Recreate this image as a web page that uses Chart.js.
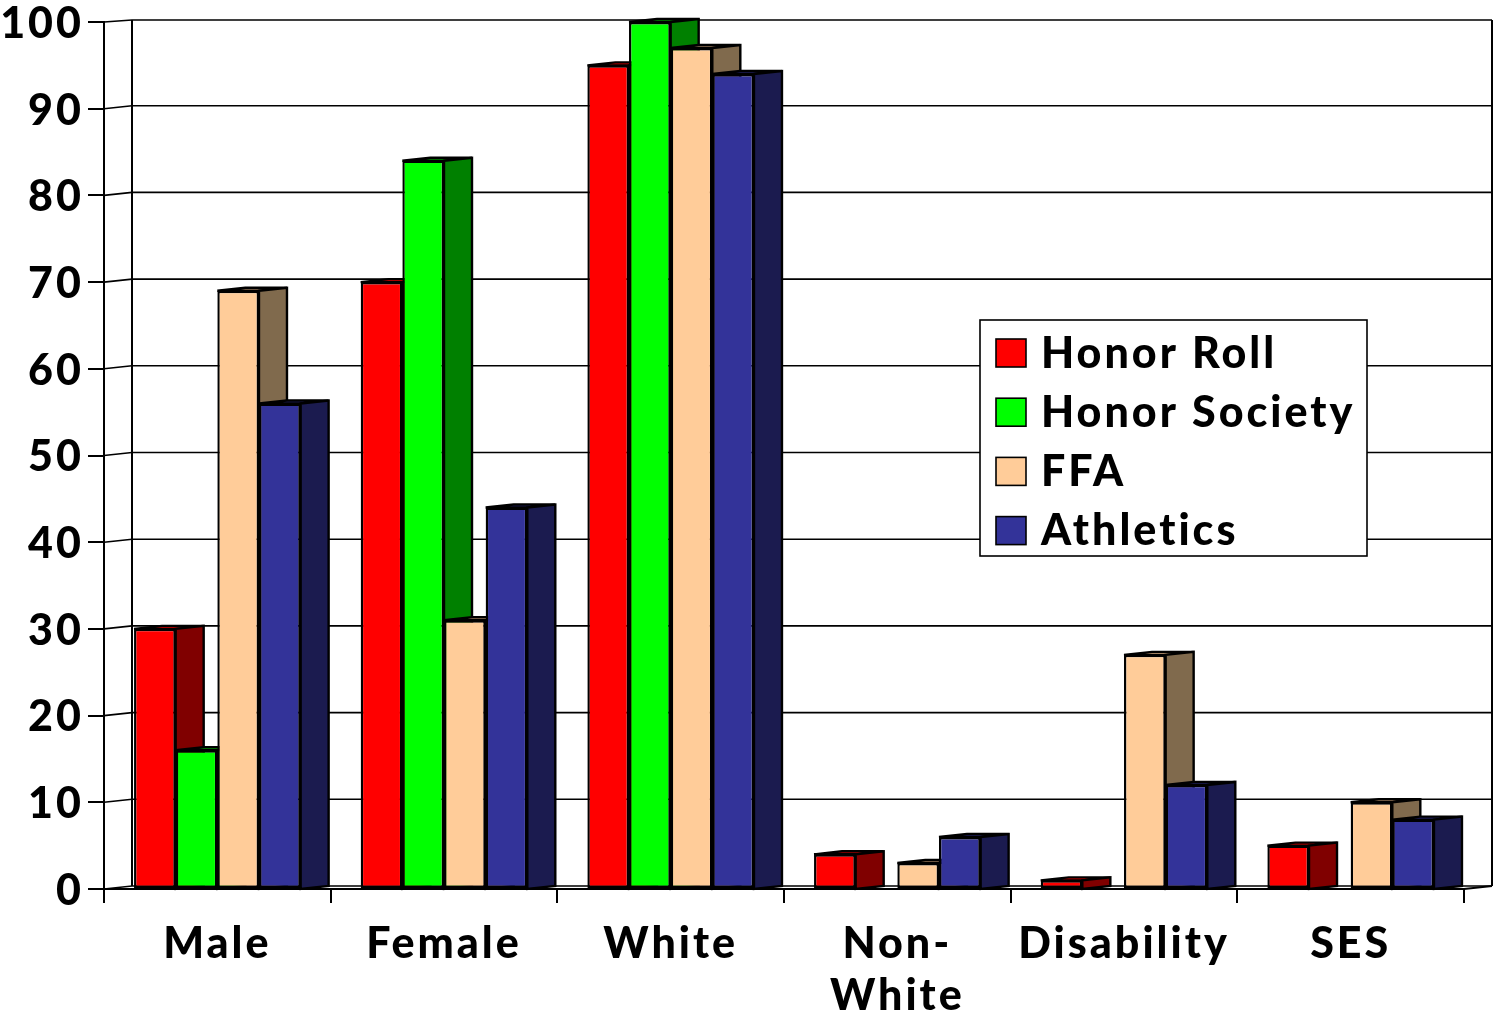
<!DOCTYPE html>
<html><head><meta charset="utf-8">
<style>html,body{margin:0;padding:0;background:#fff}#w{position:absolute;left:0;top:0;width:1499px;height:1017px}</style>
<script src="https://cdn.jsdelivr.net/npm/chart.js@4"></script>
</head><body><div id="w"><canvas id="c" width="1499" height="1017"></canvas></div>
<script>
const categories = ['Male','Female','White',['Non-','White'],'Disability','SES'];
const honorRoll = [30,70,95,4,1,5];
const honorSociety = [16,84,100,0,0,0];
const ffa = [69,31,97,3,27,10];
const athletics = [56,44,94,6,12,8];
const seriesNames = ['Honor Roll','Honor Society','FFA','Athletics'];
const frontColors = ['#FF0000','#00FF00','#FFCC99','#333399'];
const sideColors = ['#800000','#008000','#806A4D','#1B1B4F'];
const topColors = ['#E00000','#00D000','#D9AD82','#2A2A80'];
const yTicks = [0,10,20,30,40,50,60,70,80,90,100];
const FONT = 'Lato';
const WEIGHT = 900;
const DX = 28, DY = 3;

const depth3d = {
  id:'depth3d',
  beforeDraw(chart){
    const {ctx,scales:{x,y}} = chart;
    ctx.letterSpacing = '3px';
    const L=x.left,R=x.right;
    ctx.save();
    ctx.strokeStyle='#000';ctx.lineWidth=1.6;
    yTicks.forEach(v=>{
      const py=y.getPixelForValue(v);
      ctx.beginPath();ctx.moveTo(L,py);ctx.lineTo(L+DX,py-DY+(v===100?1:0));ctx.lineTo(R+DX,py-DY+(v===100?1:0));ctx.stroke();
    });
    ctx.lineWidth=2;
    ctx.beginPath();
    ctx.moveTo(L+DX,y.getPixelForValue(100)-2);ctx.lineTo(L+DX,y.getPixelForValue(0)-DY);
    ctx.moveTo(R+DX,y.getPixelForValue(100)-2);ctx.lineTo(R+DX,y.getPixelForValue(0)-DY);
    ctx.moveTo(R,y.getPixelForValue(0));ctx.lineTo(R+DX,y.getPixelForValue(0)-DY);
    ctx.stroke();
    // legend
    const bx=980,by=320,bw=387,bh=236;
    ctx.fillStyle='#fff';ctx.fillRect(bx,by,bw,bh);
    ctx.strokeStyle='#000';ctx.lineWidth=1.6;ctx.strokeRect(bx,by,bw,bh);
    seriesNames.forEach((n,i)=>{
      const cy=by+33+i*59.2;
      ctx.fillStyle=frontColors[i];ctx.fillRect(996,cy-14,30,28);
      ctx.strokeStyle='#000';ctx.lineWidth=1.6;ctx.strokeRect(996,cy-14,30,28);
      ctx.fillStyle='#000';ctx.font=WEIGHT+' 43px '+FONT;ctx.textBaseline='middle';ctx.textAlign='left';
      ctx.fillText(n,1041,cy+1);
    });
    ctx.restore();
  },
  beforeDatasetsDraw(chart){
    const {ctx,scales:{y}} = chart;
    const base=y.getPixelForValue(0);
    ctx.save();
    ctx.strokeStyle='#000';ctx.lineWidth=2.4;ctx.lineJoin='miter';
    categories.forEach((_,ci)=>{
      chart.data.datasets.forEach((ds,si)=>{
        if(!ds.data[ci])return;
        const b=chart.getDatasetMeta(si).data[ci];
        const l=b.x-b.width/2,r=b.x+b.width/2,t=b.y;
        ctx.fillStyle=topColors[si];
        ctx.beginPath();ctx.moveTo(l,t);ctx.lineTo(l+DX,t-DY);ctx.lineTo(r+DX,t-DY);ctx.lineTo(r,t);ctx.closePath();ctx.fill();ctx.stroke();
        ctx.fillStyle=sideColors[si];
        ctx.beginPath();ctx.moveTo(r,t);ctx.lineTo(r+DX,t-DY);ctx.lineTo(r+DX,base-DY);ctx.lineTo(r,base);ctx.closePath();ctx.fill();ctx.stroke();
      });
    });
    ctx.restore();
  }
};

new Chart(document.getElementById('c'),{
  type:'bar',
  data:{labels:categories,datasets:[honorRoll,honorSociety,ffa,athletics].map((d,i)=>({
    label:seriesNames[i],data:d,backgroundColor:frontColors[i],borderColor:'#000',borderWidth:2.4,borderSkipped:false,
    categoryPercentage:0.735,barPercentage:1
  }))},
  options:{
    responsive:false,animation:false,devicePixelRatio:1,
    layout:{padding:{top:22,right:35,left:0,bottom:0}},
    plugins:{legend:{display:false},tooltip:{enabled:false},title:{display:false}},
    scales:{
      x:{
        afterFit(s){s.height=128;s.paddingLeft=0;s.paddingRight=0;},
        border:{display:true,color:'#000',width:2},
        grid:{drawOnChartArea:false,color:'#000',lineWidth:2,tickLength:14,offset:true},
        ticks:{color:'#000',font:{family:FONT,weight:WEIGHT,size:43,lineHeight:1.21},maxRotation:0,autoSkip:false,padding:15}
      },
      y:{
        min:0,max:100,
        afterFit(s){s.width=104;s.paddingTop=0;s.paddingBottom=0;},
        afterBuildTicks(s){s.ticks=yTicks.map(v=>({value:v}));},
        border:{display:true,color:'#000',width:2},
        grid:{drawOnChartArea:false,color:'#000',lineWidth:2,tickLength:16},
        ticks:{color:'#000',font:{family:FONT,weight:WEIGHT,size:43},padding:4,labelOffset:2}
      }
    }
  },
  plugins:[depth3d]
});
</script></body></html>
